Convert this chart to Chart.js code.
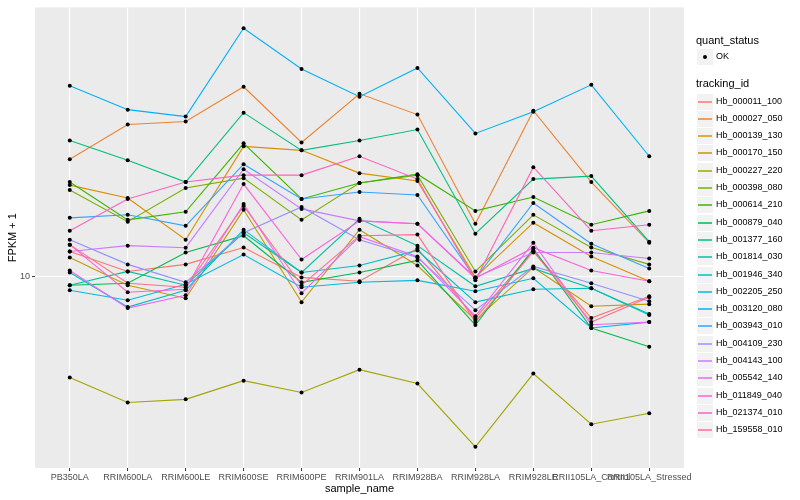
<!DOCTYPE html>
<html>
<head>
<meta charset="utf-8">
<script src="https://cdn.jsdelivr.net/npm/chart.js@4.4.0/dist/chart.umd.min.js"></script>
<style>
  body { margin: 0; background: #fff; }
  #wrap { position: relative; width: 800px; height: 500px; font-family: "Liberation Sans", Arial, sans-serif; }
  #legend { position: absolute; left: 0; top: 0; width: 800px; height: 500px; pointer-events: none; }
  .ttl { position: absolute; font-size: 11px; color: #000; line-height: 13px; }
  .key { position: absolute; width: 16px; height: 16px; background: #F2F2F2; border: 1px solid #fff; }
  .lab { position: absolute; font-size: 9px; color: #000; line-height: 11px; white-space: nowrap; }
</style>
</head>
<body>
<div id="wrap">
  <canvas id="chart" width="800" height="500"></canvas>
  <div id="legend"></div>
</div>
<script>
const categories = ["PB350LA", "RRIM600LA", "RRIM600LE", "RRIM600SE", "RRIM600PE", "RRIM901LA",
  "RRIM928BA", "RRIM928LA", "RRIM928LE", "RRII105LA_Control", "RRII105LA_Stressed"];

// FPKM + 1 per sample
const s000011_100 = [11.55, 10.29, 10.72, 11.82, 9.94, 9.72, 11.75, 7.85, 11.61, 7.85, 8.91];
const s000027_050 = [19.73, 24.13, 24.55, 30.03, 21.75, 28.84, 25.56, 13.57, 26.15, 17.28, 12.16];
const s000139_130 = [16.98, 15.76, 12.37, 21.26, 20.77, 18.20, 17.38, 9.94, 13.65, 11.22, 9.72];
const s000170_150 = [11.16, 9.50, 8.81, 14.71, 8.61, 13.11, 10.65, 7.76, 10.53, 8.41, 8.51];
const s000227_220 = [5.56, 4.81, 4.90, 5.46, 5.10, 5.82, 5.37, 3.72, 5.69, 4.24, 4.52];
const s000398_080 = [16.50, 13.73, 16.69, 17.68, 13.88, 17.18, 17.99, 10.29, 14.29, 11.82, 10.72];
const s000614_210 = [17.28, 13.88, 14.54, 21.63, 15.67, 17.18, 18.09, 14.62, 15.85, 13.49, 14.62];
const s000879_040 = [9.50, 9.61, 11.48, 12.66, 9.66, 10.23, 10.97, 7.54, 11.75, 7.41, 6.65];
const s001377_160 = [22.00, 19.61, 17.28, 25.85, 20.77, 22.00, 23.44, 12.81, 17.58, 17.89, 12.23];
const s001814_030 = [9.50, 10.29, 9.50, 12.88, 10.23, 13.96, 11.95, 9.44, 10.47, 9.33, 8.04];
const s001946_340 = [10.23, 8.37, 9.23, 13.11, 10.23, 10.65, 11.62, 8.61, 9.28, 9.33, 7.99];
const s002205_250 = [9.23, 8.71, 9.55, 11.35, 9.39, 9.66, 9.77, 9.17, 9.89, 7.41, 7.67];
const s003120_080 = [30.20, 26.30, 25.26, 42.17, 33.30, 28.35, 33.50, 22.91, 26.00, 30.37, 20.07];
const s003943_010 = [14.04, 14.29, 13.41, 19.17, 15.67, 16.31, 16.03, 9.89, 15.31, 12.09, 10.47];
const s004109_230 = [12.37, 10.72, 9.66, 12.88, 14.96, 12.37, 11.16, 8.22, 10.59, 9.61, 8.66];
const s004143_100 = [11.55, 11.95, 11.81, 18.62, 14.79, 13.80, 13.57, 9.94, 11.48, 11.48, 11.09];
const s005542_140 = [10.35, 8.32, 8.96, 15.22, 9.07, 12.59, 11.22, 7.94, 12.16, 7.55, 7.67];
const s011849_040 = [12.02, 9.12, 9.28, 17.08, 11.03, 13.80, 13.57, 9.89, 11.81, 10.35, 9.72];
const s021374_010 = [13.03, 15.67, 17.28, 17.99, 17.99, 20.07, 17.58, 9.77, 18.84, 13.03, 13.49];
const s159558_010 = [12.02, 9.61, 9.39, 15.05, 9.50, 12.66, 12.74, 7.67, 11.55, 7.67, 8.86];

const trackingIds = ["Hb_000011_100", "Hb_000027_050", "Hb_000139_130", "Hb_000170_150", "Hb_000227_220",
  "Hb_000398_080", "Hb_000614_210", "Hb_000879_040", "Hb_001377_160", "Hb_001814_030",
  "Hb_001946_340", "Hb_002205_250", "Hb_003120_080", "Hb_003943_010", "Hb_004109_230",
  "Hb_004143_100", "Hb_005542_140", "Hb_011849_040", "Hb_021374_010", "Hb_159558_010"];
const seriesValues = [s000011_100, s000027_050, s000139_130, s000170_150, s000227_220,
  s000398_080, s000614_210, s000879_040, s001377_160, s001814_030,
  s001946_340, s002205_250, s003120_080, s003943_010, s004109_230,
  s004143_100, s005542_140, s011849_040, s021374_010, s159558_010];
const hueColors = ["#F8766D", "#EA8331", "#D89000", "#C09B00", "#A3A500", "#7CAE00", "#39B600",
  "#00BB4E", "#00BF7D", "#00C1A3", "#00BFC4", "#00BAE0", "#00B0F6", "#35A2FF", "#9590FF",
  "#C77CFF", "#E76BF3", "#FA62DB", "#FF62BC", "#FF6C91"];
const yTicks = [10];
const yMin = 3.29, yMax = 47.6;

const datasets = seriesValues.map((vals, i) => ({
  label: trackingIds[i],
  data: vals.map((v, j) => ({ x: j, y: v })),
  borderColor: hueColors[i],
  borderWidth: 1.1,
  pointRadius: 0,
  fill: false,
  tension: 0,
  order: seriesValues.length - i
}));

// all points drawn on top of every line, like geom_point after geom_line
const allPoints = [];
seriesValues.forEach(vals => vals.forEach((v, j) => allPoints.push({ x: j, y: v })));
datasets.push({
  label: 'OK',
  data: allPoints,
  showLine: false,
  pointRadius: 2,
  pointBackgroundColor: '#000',
  pointBorderWidth: 0,
  order: 0
});

const panelBg = {
  id: 'panelBg',
  beforeDraw(chart) {
    const { ctx, chartArea: a } = chart;
    ctx.save();
    ctx.fillStyle = '#EBEBEB';
    ctx.fillRect(a.left, a.top, a.right - a.left, a.bottom - a.top);
    ctx.restore();
  }
};

const fontFam = '"Liberation Sans", Arial, sans-serif';

new Chart(document.getElementById('chart'), {
  type: 'line',
  data: { datasets },
  options: {
    responsive: false,
    animation: false,
    layout: { padding: { left: 0, top: 5, right: 116, bottom: 0 } },
    plugins: { legend: { display: false }, tooltip: { enabled: false } },
    scales: {
      x: {
        type: 'linear',
        min: -0.6,
        max: 10.6,
        afterBuildTicks: s => { s.ticks = categories.map((c, i) => ({ value: i })); },
        afterFit: s => { s.height = 32; },
        ticks: {
          callback: v => categories[v],
          autoSkip: false,
          maxRotation: 0,
          minRotation: 0,
          padding: 1,
          color: '#4D4D4D',
          font: { family: fontFam, size: 9 }
        },
        grid: { color: '#FFFFFF', lineWidth: 1.1, tickColor: '#333333', tickLength: 3, tickWidth: 1 },
        border: { display: false },
        title: { display: true, text: 'sample_name', color: '#000', font: { family: fontFam, size: 11 }, padding: { top: 0, bottom: 4 } }
      },
      y: {
        type: 'logarithmic',
        min: yMin,
        max: yMax,
        afterBuildTicks: s => { s.ticks = yTicks.map(v => ({ value: v })); },
        afterFit: s => { s.width = 35; },
        ticks: {
          callback: v => String(v),
          padding: 2,
          color: '#4D4D4D',
          font: { family: fontFam, size: 9 }
        },
        grid: { color: '#FFFFFF', lineWidth: 1.1, tickColor: '#333333', tickLength: 3, tickWidth: 1 },
        border: { display: false },
        title: { display: true, text: 'FPKM + 1', color: '#000', font: { family: fontFam, size: 11 }, padding: { top: 6, bottom: 0 } }
      }
    }
  },
  plugins: [panelBg]
});

// legend, ggplot style
const leg = document.getElementById('legend');
function add(cls, x, y, html) {
  const d = document.createElement('div');
  d.className = cls;
  d.style.left = Math.round(x) + 'px';
  d.style.top = Math.round(y) + 'px';
  if (html) d.innerHTML = html;
  leg.appendChild(d);
  return d;
}
add('ttl', 696, 34, 'quant_status');
add('key', 696, 48, '<div style="position:absolute;left:6px;top:6px;width:4px;height:4px;border-radius:2px;background:#000"></div>');
add('lab', 716, 51, 'OK');
add('ttl', 696, 77, 'tracking_id');
trackingIds.forEach((name, i) => {
  const cy = 101 + i * 17.3;
  add('key', 696, cy - 8.5,
    '<div style="position:absolute;left:1px;top:7px;width:14px;height:2px;opacity:0.75;background:' + hueColors[i] + '"></div>');
  add('lab', 716, cy - 5.5, name);
});
</script>
</body>
</html>
